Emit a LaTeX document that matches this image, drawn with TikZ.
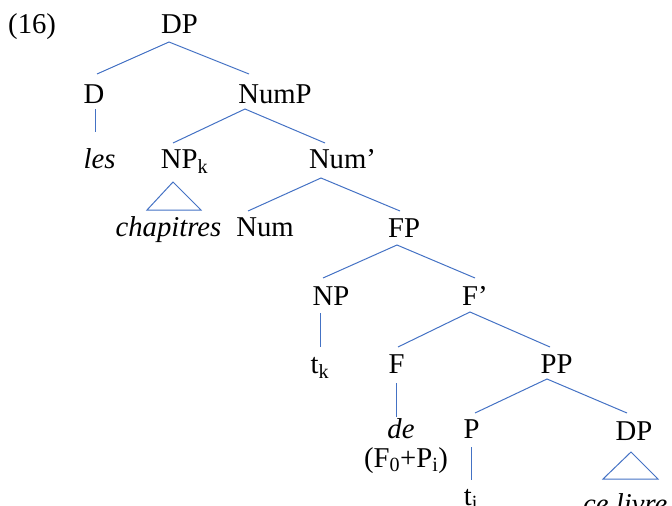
\documentclass[tikz,border=0pt]{standalone}
\usepackage{fontspec}
\setmainfont{Liberation Serif}
\definecolor{branch}{HTML}{4472C4}
\begin{document}
\begin{tikzpicture}[x=1pt,y=-1pt,
  lbl/.style={anchor=base,inner sep=0pt,font=\fontsize{28.7}{34}\selectfont},
  edge/.style={draw=branch,line width=1pt},
  tri/.style={draw=branch,line width=1pt,line join=miter}]
\useasboundingbox (0,0) rectangle (672,506);
\clip (0,0) rectangle (672,506);

% labels
\node[lbl,anchor=base west] (ex) at (8,34) {(16)};
\node[lbl] (dp1) at (179.5,34) {DP};
\node[lbl] (d) at (94,103) {D};
\node[lbl] (nump) at (275,103) {NumP};
\node[lbl] (les) at (99.5,168) {\itshape les};
\node[lbl] (npk) at (184.5,168) {NP\textsubscript{k}};
\node[lbl] (numbar) at (342.5,168) {Num’};
\node[lbl] (chap) at (168.5,236) {\itshape chapitres};
\node[lbl] (num) at (265,236) {Num};
\node[lbl] (fp) at (404,237) {FP};
\node[lbl] (np) at (331,305) {NP};
\node[lbl] (fbar) at (475,305) {F’};
\node[lbl] (tk) at (320,373) {t\textsubscript{k}};
\node[lbl] (f) at (396.5,373) {F};
\node[lbl] (pp) at (556.5,373) {PP};
\node[lbl] (de) at (401,438) {\itshape de};
\node[lbl] (p) at (471.5,438) {P};
\node[lbl] (dp2) at (634,440) {DP};
\node[lbl] (fpi) at (406,467) {(F\textsubscript{0}+P\textsubscript{i})};
\node[lbl] (ti) at (471,505) {t\textsubscript{i}};
\node[lbl,anchor=base west] (livre) at (583,513) {\itshape ce livre};

% branch end points
\coordinate (dp1-b) at (169,42);
\coordinate (d-t) at (97,74);
\coordinate (nump-t) at (249,74);
\coordinate (d-b) at (95,109);
\coordinate (les-t) at (95,132);
\coordinate (nump-b) at (245,109);
\coordinate (npk-t) at (173,143);
\coordinate (numbar-t) at (325,143);
\coordinate (npk-b) at (173,182);
\coordinate (npk-l) at (147,210);
\coordinate (npk-r) at (201,210);
\coordinate (numbar-b) at (321,178);
\coordinate (num-t) at (248,211);
\coordinate (fp-t) at (400,211);
\coordinate (fp-b) at (397,245);
\coordinate (np-t) at (323,278);
\coordinate (fbar-t) at (475,278);
\coordinate (np-b) at (320,313);
\coordinate (tk-t) at (320,347);
\coordinate (fbar-b) at (470,312);
\coordinate (f-t) at (398,347);
\coordinate (pp-t) at (550,347);
\coordinate (f-b) at (396,383);
\coordinate (de-t) at (396,417);
\coordinate (pp-b) at (547,379);
\coordinate (p-t) at (475,413);
\coordinate (dp2-t) at (627,413);
\coordinate (p-b) at (471,447);
\coordinate (ti-t) at (471,480);
\coordinate (dp2-b) at (631,452);
\coordinate (dp2-l) at (603,479);
\coordinate (dp2-r) at (658,479);

% branches
\draw[edge] (d-t) -- (dp1-b) -- (nump-t);
\draw[edge] (d-b) -- (les-t);
\draw[edge] (npk-t) -- (nump-b) -- (numbar-t);
\draw[tri] (npk-b) -- (npk-l) -- (npk-r) -- cycle;
\draw[edge] (num-t) -- (numbar-b) -- (fp-t);
\draw[edge] (np-t) -- (fp-b) -- (fbar-t);
\draw[edge] (np-b) -- (tk-t);
\draw[edge] (f-t) -- (fbar-b) -- (pp-t);
\draw[edge] (f-b) -- (de-t);
\draw[edge] (p-t) -- (pp-b) -- (dp2-t);
\draw[edge] (p-b) -- (ti-t);
\draw[tri] (dp2-b) -- (dp2-l) -- (dp2-r) -- cycle;
\end{tikzpicture}
\end{document}
